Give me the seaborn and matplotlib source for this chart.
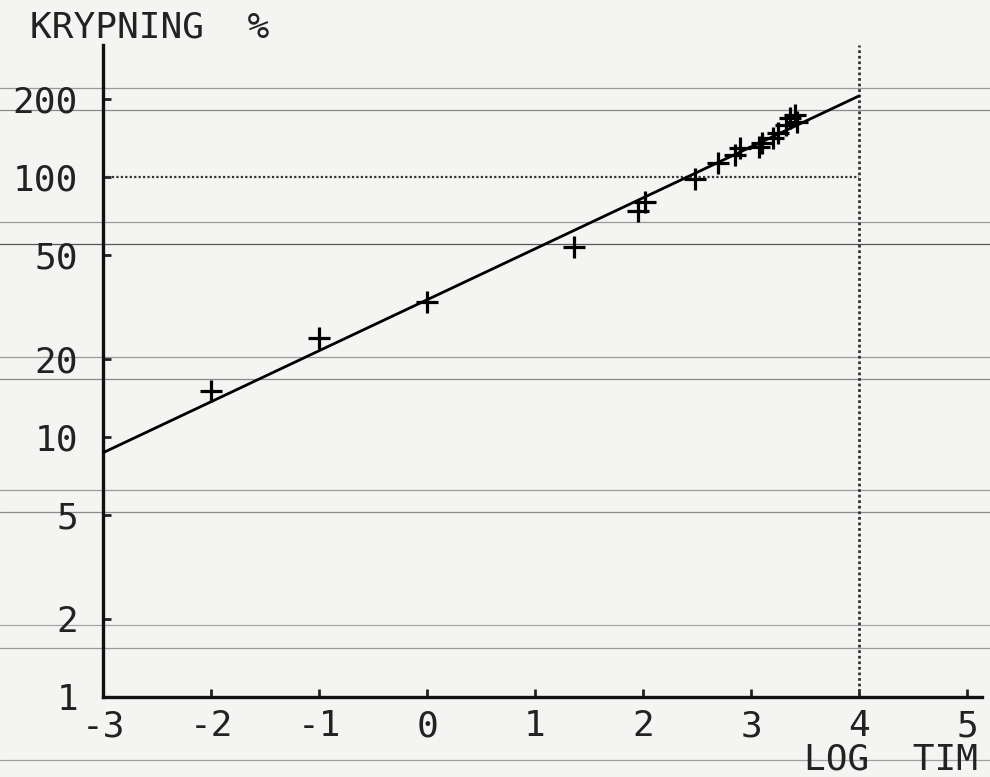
import matplotlib
matplotlib.use("Agg")
import matplotlib.pyplot as plt
import seaborn as sns
import numpy as np
import pandas as pd
from matplotlib.lines import Line2D

# ---- data ----
log_tim = [-2.0, -1.0, 0.0, 1.36, 1.95, 2.02, 2.48, 2.69, 2.85, 2.90, 3.07, 3.10,
           3.20, 3.25, 3.32, 3.36, 3.41, 3.43]
krypning = [15, 24, 33, 54, 74, 80, 98, 113, 122, 129, 130, 135,
            141, 148, 158, 169, 173, 163]
fit_x = [-3.0, 4.0]
fit_y = [8.7, 205]
y_ticks = [1, 2, 5, 10, 20, 50, 100, 200]
y_tick_labels = ["1", "2", "5", "10", "20", "50", "100", "200"]
x_ticks = [-3, -2, -1, 0, 1, 2, 3, 4, 5]
x_tick_labels = ["-3", "-2", "-1", "0", "1", "2", "3", "4", "5"]

sns.set_theme(style="white")
plt.rcParams["font.family"] = ["DejaVu Sans Mono", "DejaVu Sans"]

W, H = 990, 777
paper = "#f4f4f2"
ink = "#222222"
fig = plt.figure(figsize=(W / 100, H / 100), dpi=100, facecolor=paper)
ax = fig.add_axes([103 / W, 1 - 697 / H, (982 - 103) / W, (697 - 45) / H])
ax.set_facecolor("none")

# paper ruling lines (scan background)
for ypx, c in [(88, "#9a9a9a"), (110, "#8a8a8a"), (222, "#9a9a9a"), (244, "#555555"),
               (357, "#9a9a9a"), (379, "#8a8a8a"), (490, "#9a9a9a"), (512, "#8a8a8a"),
               (625, "#a5a5a5"), (648, "#9a9a9a"), (760, "#a0a0a0")]:
    fig.add_artist(Line2D([0, 1], [1 - ypx / H, 1 - ypx / H], transform=fig.transFigure,
                          color=c, lw=0.9, zorder=0))

df_pts = pd.DataFrame({"x": log_tim, "y": krypning})
df_fit = pd.DataFrame({"x": fit_x, "y": fit_y})

sns.lineplot(data=df_fit, x="x", y="y", ax=ax, color="black", lw=2.0, zorder=3)
sns.scatterplot(data=df_pts, x="x", y="y", ax=ax, marker="+", s=240, color="black",
                linewidth=2.3, zorder=4)

ax.set_yscale("log")
ax.set_xlim(-3, -3 + (982 - 103) / 108)
ax.set_ylim(1, 10 ** ((697 - 45) / 260))

# dotted reference lines
ax.plot([-3, 4], [100, 100], color="#333333", lw=1.6, ls=(0, (1, 1)), zorder=2)
ax.axvline(4, color="#333333", lw=2.0, ls=(0, (1, 1)), zorder=2)

ax.yaxis.set_major_locator(matplotlib.ticker.FixedLocator(y_ticks))
ax.yaxis.set_minor_locator(matplotlib.ticker.NullLocator())
ax.set_yticklabels(y_tick_labels)
ax.set_xticks(x_ticks)
ax.set_xticklabels(x_tick_labels)
ax.tick_params(axis="y", direction="in", length=6, width=2, pad=18, labelsize=26,
               colors=ink, left=True)
ax.tick_params(axis="x", direction="in", length=6, width=2, pad=9, labelsize=26,
               colors=ink, bottom=True)

for s in ["top", "right"]:
    ax.spines[s].set_visible(False)
for s in ["left", "bottom"]:
    ax.spines[s].set_color("#111111")
    ax.spines[s].set_linewidth(2.4)

ax.set_xlabel("")
ax.set_ylabel("")

fig.text(30 / W, 1 - 11 / H, "KRYPNING  %", ha="left", va="top", fontsize=26, color=ink)
fig.text(978 / W, 1 - 776 / H, "LOG  TIM", ha="right", va="bottom", fontsize=26, color=ink)

fig.savefig("out.png", dpi=100, facecolor=paper)
